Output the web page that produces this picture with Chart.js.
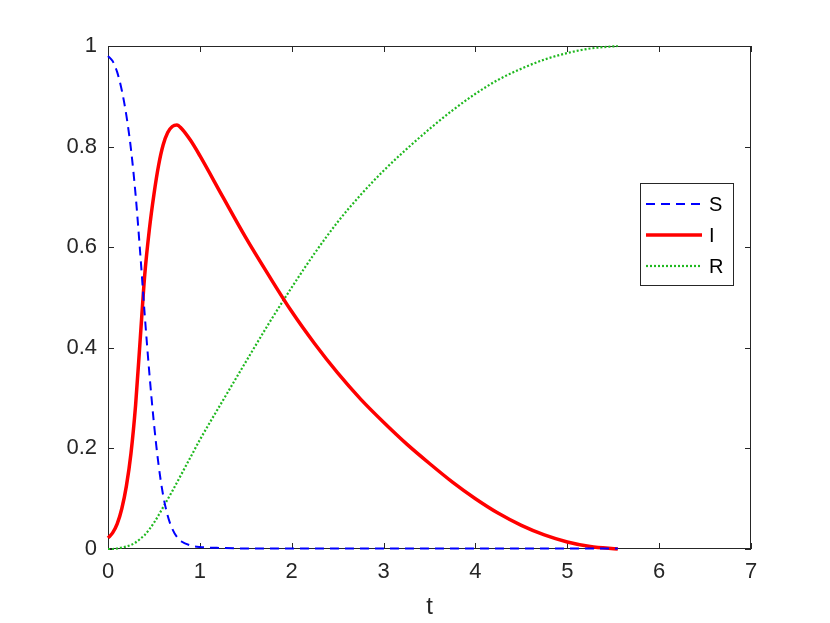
<!DOCTYPE html>
<html>
<head>
<meta charset="utf-8">
<script src="https://cdn.jsdelivr.net/npm/chart.js@4/dist/chart.umd.min.js"></script>
<style>
  html, body { margin: 0; padding: 0; background: #fff; }
  #wrap { width: 830px; height: 623px; }
</style>
</head>
<body>
<div id="wrap"><canvas id="c" width="830" height="623"></canvas></div>
<script>
// valores (modelo SIR)
const tiempos = [0, 0.05, 0.1, 0.15, 0.2, 0.25, 0.3, 0.35, 0.4, 0.45, 0.5, 0.55, 0.6, 0.65, 0.7, 0.75, 0.8, 0.9, 1.0, 1.25, 1.5, 1.75, 2.0, 2.25, 2.5, 2.75, 3.0, 3.25, 3.5, 3.75, 4.0, 4.25, 4.5, 4.75, 5.0, 5.25, 5.55];
const susceptibles = [0.98, 0.97, 0.948, 0.912, 0.862, 0.795, 0.705, 0.59, 0.465, 0.35, 0.25, 0.168, 0.107, 0.066, 0.04, 0.024, 0.015, 0.007, 0.004, 0.002, 0.001, 0.001, 0.001, 0.001, 0.001, 0.001, 0.001, 0.001, 0.001, 0.001, 0.001, 0.001, 0.001, 0.001, 0.001, 0.001, 0.001];
const infectados = [0.022, 0.032, 0.05, 0.08, 0.125, 0.19, 0.285, 0.415, 0.545, 0.635, 0.705, 0.762, 0.803, 0.828, 0.84, 0.843, 0.836, 0.812, 0.782, 0.7, 0.619, 0.544, 0.472, 0.408, 0.35, 0.298, 0.252, 0.209, 0.17, 0.133, 0.1, 0.071, 0.047, 0.028, 0.014, 0.005, 0.0];
const recuperados = [0, 0, 0.001, 0.003, 0.005, 0.008, 0.013, 0.02, 0.028, 0.039, 0.052, 0.067, 0.083, 0.099, 0.115, 0.132, 0.149, 0.183, 0.217, 0.295, 0.372, 0.448, 0.52, 0.588, 0.65, 0.704, 0.752, 0.795, 0.835, 0.872, 0.905, 0.933, 0.955, 0.973, 0.986, 0.995, 1.0];
const ticksX = [0, 1, 2, 3, 4, 5, 6, 7];
const ticksY = [0, 0.2, 0.4, 0.6, 0.8, 1];

const colorEje = "#262626";
const fuente = "'Liberation Sans', Arial, sans-serif";

function puntos(valores) {
  return tiempos.map((t, i) => ({ x: t, y: valores[i] }));
}

// caja de ejes con marcas hacia dentro (estilo MATLAB), debajo de las curvas
const cajaEjes = {
  id: "cajaEjes",
  beforeDatasetsDraw(chart) {
    const { ctx, chartArea: a, scales } = chart;
    ctx.save();
    ctx.strokeStyle = colorEje;
    ctx.lineWidth = 1;
    ctx.strokeRect(a.left + 0.5, a.top + 0.5, a.right - a.left - 1, a.bottom - a.top - 1);
    const largo = 6;
    ctx.beginPath();
    ticksX.forEach(v => {
      const x = Math.round(scales.x.getPixelForValue(v)) + 0.5;
      ctx.moveTo(x, a.bottom); ctx.lineTo(x, a.bottom - largo);
      ctx.moveTo(x, a.top); ctx.lineTo(x, a.top + largo);
    });
    ticksY.forEach(v => {
      const y = Math.round(scales.y.getPixelForValue(v)) + 0.5;
      ctx.moveTo(a.left, y); ctx.lineTo(a.left + largo, y);
      ctx.moveTo(a.right, y); ctx.lineTo(a.right - largo, y);
    });
    ctx.stroke();
    ctx.restore();
  }
};

// leyenda dentro del area, a la derecha
const leyendaDentro = {
  id: "leyendaDentro",
  afterDraw(chart) {
    const { ctx } = chart;
    const x0 = 640, y0 = 183, w = 93, h = 102;
    ctx.save();
    ctx.fillStyle = "#fff";
    ctx.fillRect(x0, y0, w, h);
    ctx.strokeStyle = colorEje;
    ctx.lineWidth = 1;
    ctx.strokeRect(x0 + 0.5, y0 + 0.5, w, h);
    chart.data.datasets.forEach((ds, i) => {
      const y = y0 + 21 + i * 31;
      ctx.beginPath();
      ctx.strokeStyle = ds.borderColor;
      ctx.lineWidth = ds.borderWidth;
      ctx.setLineDash(ds.borderDash || []);
      ctx.moveTo(646, y);
      ctx.lineTo(702, y);
      ctx.stroke();
      ctx.setLineDash([]);
      ctx.fillStyle = "#000";
      ctx.font = "20px " + fuente;
      ctx.textBaseline = "middle";
      ctx.fillText(ds.label, 709, y + 1);
    });
    ctx.restore();
  }
};

new Chart(document.getElementById("c"), {
  type: "line",
  data: {
    datasets: [
      { label: "S", data: puntos(susceptibles), borderColor: "#0000ff", borderWidth: 2, borderDash: [9, 6], clip: false },
      { label: "I", data: puntos(infectados), borderColor: "#ff0000", borderWidth: 3.5, clip: false },
      { label: "R", data: puntos(recuperados), borderColor: "#1fb81f", borderWidth: 2.2, borderDash: [2, 2], clip: false }
    ]
  },
  options: {
    responsive: false,
    animation: false,
    layout: { padding: { left: 0, top: 46, right: 79, bottom: 0 } },
    elements: {
      point: { radius: 0 },
      line: { cubicInterpolationMode: "monotone", fill: false }
    },
    plugins: { legend: { display: false }, tooltip: { enabled: false } },
    scales: {
      x: {
        type: "linear",
        min: 0, max: 7,
        afterBuildTicks: s => { s.ticks = ticksX.map(v => ({ value: v })); },
        afterFit: s => { s.height = 74; },
        grid: { display: false, drawTicks: false },
        border: { display: false },
        ticks: { color: colorEje, font: { family: fuente, size: 22 }, padding: 10, maxRotation: 0, callback: v => String(v) },
        title: { display: true, text: "t", color: colorEje, font: { family: fuente, size: 24 }, padding: { top: 0, bottom: 1 } }
      },
      y: {
        min: 0, max: 1,
        afterBuildTicks: s => { s.ticks = ticksY.map(v => ({ value: v })); },
        afterFit: s => { s.width = 108; },
        grid: { display: false, drawTicks: false },
        border: { display: false },
        ticks: { color: colorEje, font: { family: fuente, size: 22 }, padding: 11, callback: v => String(v) }
      }
    }
  },
  plugins: [cajaEjes, leyendaDentro]
});
</script>
</body>
</html>
